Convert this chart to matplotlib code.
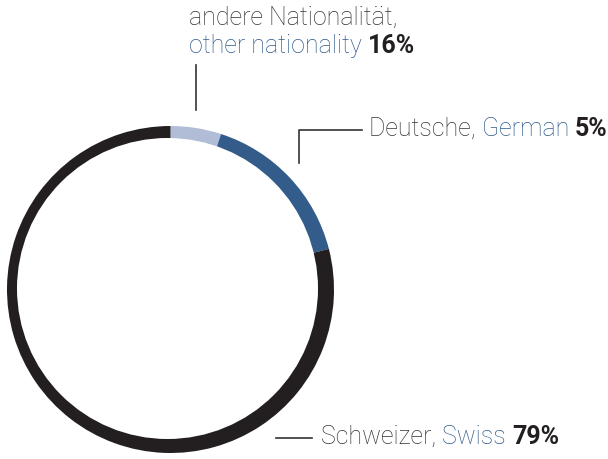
import matplotlib
matplotlib.use("Agg")
import matplotlib.pyplot as plt
import matplotlib.patches as patches

# ring shares, clockwise from 12 o'clock (as drawn)
segment_names = ["other", "German", "Swiss"]
segment_values = [5, 16, 79]
segment_colors = ["#b1bdd6", "#345c8a", "#231f20"]

# label texts: (german part, english part, percent)
label_other = ("andere Nationalität,", "other nationality", "16%")
label_german = ("Deutsche, ", "German", "5%")
label_swiss = ("Schweizer, ", "Swiss", "79%")

GRAY = "#333333"
BLUE = "#2f5a8a"
BLACK = "#231f20"
FONT = "Roboto"
FS = 18

W, H = 608, 459
fig = plt.figure(figsize=(W / 100, H / 100), dpi=100)
ax = fig.add_axes([0, 0, 1, 1])


def Y(y):
    # image pixel row -> data y
    return H - y


ax.pie(segment_values, colors=segment_colors, startangle=90, counterclock=False,
       center=(170.5, Y(289.5)), radius=163.5, wedgeprops=dict(linewidth=0))
ax.add_patch(patches.Circle((167.5, Y(288.5)), 150.5, facecolor="white",
                            edgecolor="none", zorder=3))

ax.set_xlim(0, W)
ax.set_ylim(0, H)
ax.set_aspect("auto")
ax.axis("off")

renderer = fig.canvas.get_renderer()


def text_line(x, y, parts):
    # parts: list of (text, color, weight); y is baseline in image pixels
    for s, color, weight in parts:
        t = ax.text(x, Y(y), s, color=color, fontsize=FS, family=FONT,
                    fontweight=weight, ha="left", va="baseline", zorder=5)
        x += t.get_window_extent(renderer=renderer).width


# other nationality label (two lines)
text_line(189, 25, [(label_other[0], GRAY, "light")])
text_line(189, 53, [(label_other[1] + " ", BLUE, "light"),
                    (label_other[2], BLACK, "bold")])
ax.plot([195.5, 195.5], [Y(65), Y(110)], color=GRAY, lw=1.2, zorder=4)

# German label
ax.plot([299, 299, 362], [Y(163), Y(129.5), Y(129.5)], color=GRAY, lw=1.2, zorder=4)
text_line(369, 136, [(label_german[0], GRAY, "light"),
                     (label_german[1] + " ", BLUE, "light"),
                     (label_german[2], BLACK, "bold")])

# Swiss label
ax.plot([276, 312], [Y(438), Y(438)], color=GRAY, lw=1.2, zorder=4)
text_line(321, 444, [(label_swiss[0], GRAY, "light"),
                     (label_swiss[1] + " ", BLUE, "light"),
                     (label_swiss[2], BLACK, "bold")])

fig.savefig("out.png", dpi=100)
